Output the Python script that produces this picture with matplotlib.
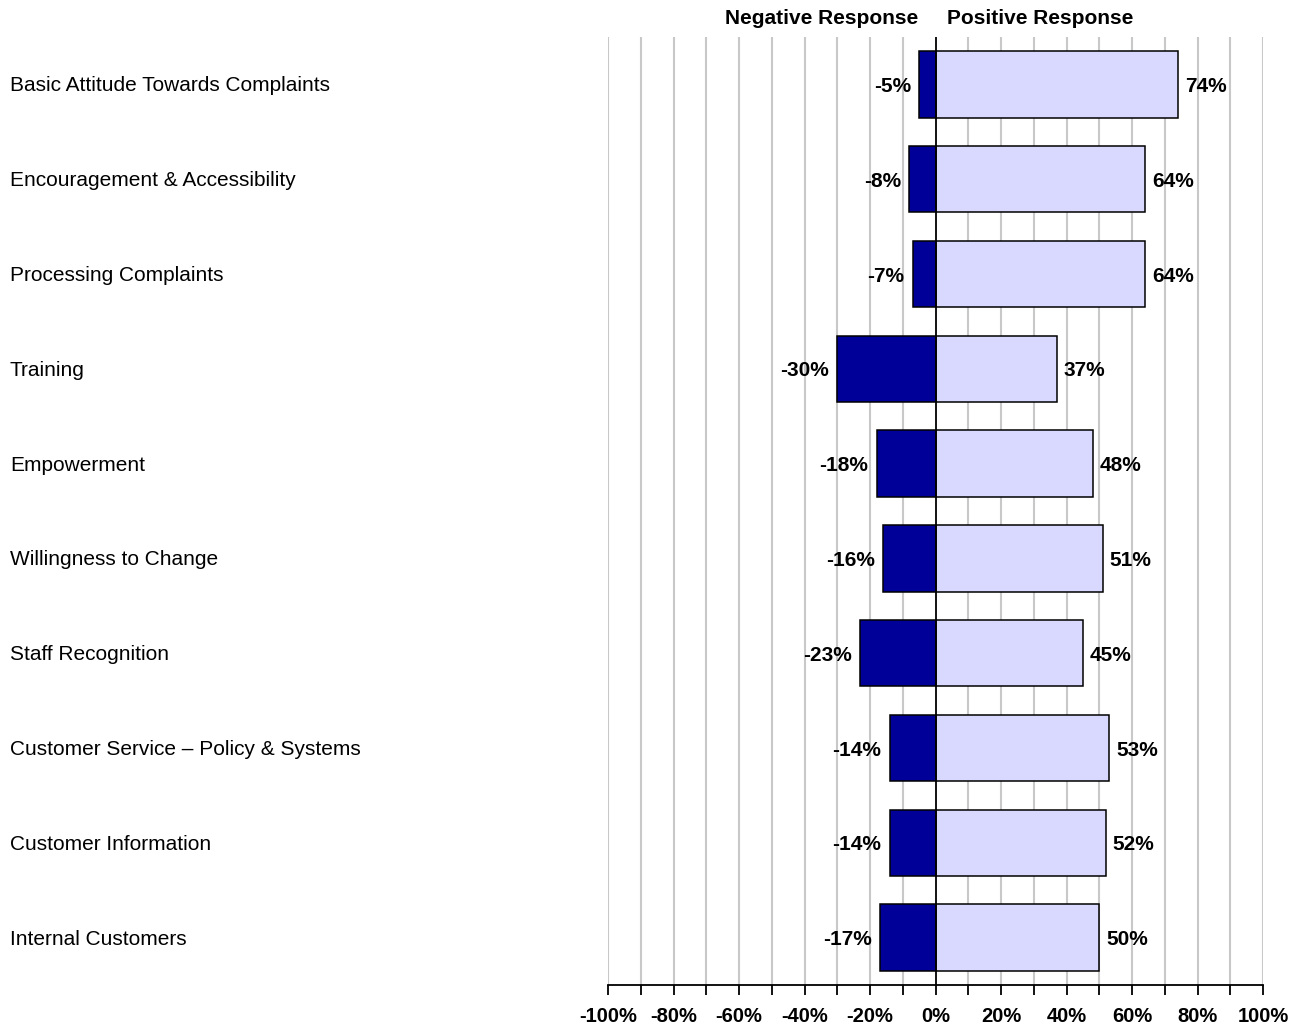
import matplotlib
matplotlib.use("Agg")
import matplotlib.pyplot as plt
import matplotlib.transforms as mtransforms
import numpy as np

categories = ["Basic Attitude Towards Complaints", "Encouragement & Accessibility",
              "Processing Complaints", "Training", "Empowerment", "Willingness to Change",
              "Staff Recognition", "Customer Service \u2013 Policy & Systems",
              "Customer Information", "Internal Customers"]
negative = [-5, -8, -7, -30, -18, -16, -23, -14, -14, -17]
positive = [74, 64, 64, 37, 48, 51, 45, 53, 52, 50]
tick_values = list(range(-100, 101, 10))
tick_labels = [f"{v}%" if v % 20 == 0 else "" for v in tick_values]

plt.rcParams['font.family'] = ['Liberation Sans', 'DejaVu Sans']

fig = plt.figure(figsize=(13.06, 10.25), dpi=100)
ax = fig.add_axes([608/1306, 40/1025, (1263-608)/1306, (985-37)/1025])

y = np.arange(len(categories))
ax.barh(y, negative, height=0.7, color="#000099", edgecolor="black", linewidth=1.1, zorder=3)
ax.barh(y, positive, height=0.7, color="#D9D9FF", edgecolor="black", linewidth=1.1, zorder=3)

for yi, v in zip(y, negative):
    ax.annotate(f"{v}%", (v, yi), xytext=(-6, -1.5), textcoords="offset points",
                ha="right", va="center", fontsize=15, fontweight="bold")
for yi, v in zip(y, positive):
    ax.annotate(f"{v}%", (v, yi), xytext=(5, -1.5), textcoords="offset points",
                ha="left", va="center", fontsize=15, fontweight="bold")

ax.set_xlim(-100, 100)
ax.set_ylim(len(categories) - 0.5, -0.5)
ax.set_xticks(tick_values)
ax.set_xticklabels(tick_labels, fontsize=14.5, fontweight="bold")
ax.tick_params(axis="x", direction="out", length=7, width=1.3, color="black", pad=9)
ax.set_yticks([])
for v in tick_values:
    if v != 0:
        ax.axvline(v, color="#C8C8C8", linewidth=1.5, zorder=1)
ax.axvline(0, color="black", linewidth=1.3, zorder=4)
for s in ["top", "right", "left"]:
    ax.spines[s].set_visible(False)
ax.spines["bottom"].set_linewidth(1.3)

trans = mtransforms.blended_transform_factory(fig.transFigure, ax.transData)
for yi, c in zip(y, categories):
    ax.text(10/1306, yi + 0.015, c, transform=trans, ha="left", va="center", fontsize=15.0, clip_on=False)

fig.text(822/1306, 1 - 19/1025, "Negative Response", ha="center", va="center", fontsize=15, fontweight="bold")
fig.text(1040/1306, 1 - 19/1025, "Positive Response", ha="center", va="center", fontsize=15, fontweight="bold")

fig.savefig("out.png", dpi=100)
